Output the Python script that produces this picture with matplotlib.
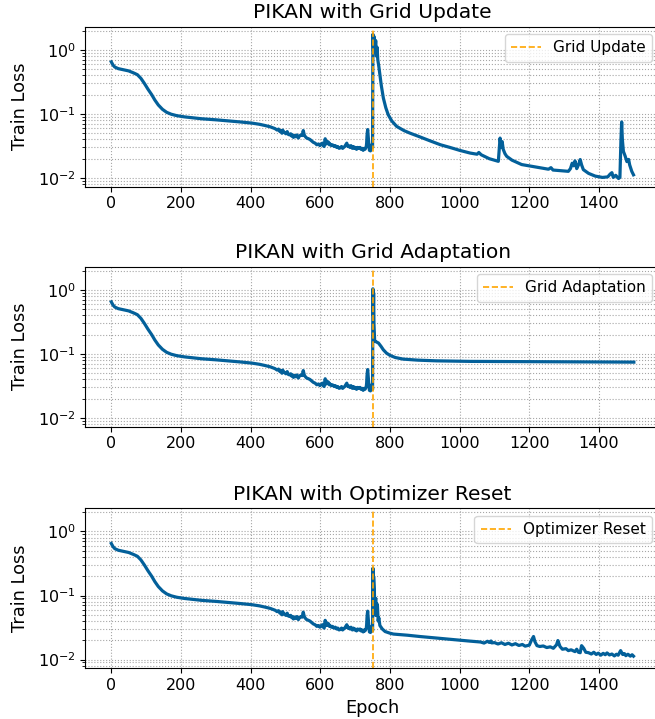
import matplotlib
matplotlib.use("Agg")
import matplotlib.pyplot as plt
import numpy as np

# shared history before the event at epoch 750
pre_epoch = [0, 5, 10, 20, 35, 50, 65, 75, 85, 95, 105, 116, 125, 135, 147,
             159, 172, 188, 210, 235, 260, 300, 336, 370, 403, 425, 441, 456,
             470, 476, 480, 484, 487, 490, 492, 495, 498, 501, 505, 508, 512,
             515, 518, 521, 523, 527, 530, 533, 537, 540, 544, 548, 551, 554,
             556, 559, 561, 566, 570, 575, 580, 585, 590, 595, 599, 603, 606,
             609, 611, 614, 616, 618, 621, 624, 626, 628, 632, 635, 640, 643,
             647, 650, 654, 657, 661, 664, 667, 670, 673, 676, 679, 681, 685,
             688, 692, 695, 698, 700, 704, 707, 711, 714, 717, 720, 723, 726,
             728, 730, 732, 733, 734, 735, 736, 737, 739, 741, 744, 747, 749]
pre_loss = [0.65, 0.58, 0.54, 0.51, 0.49, 0.47, 0.435, 0.41, 0.36, 0.30,
            0.245, 0.20, 0.165, 0.138, 0.118, 0.106, 0.099, 0.094, 0.090,
            0.087, 0.084, 0.081, 0.078, 0.075, 0.072, 0.069, 0.066, 0.063,
            0.059, 0.056, 0.058, 0.053, 0.055, 0.050, 0.056, 0.052, 0.051,
            0.049, 0.053, 0.048, 0.047, 0.049, 0.045, 0.047, 0.043, 0.046,
            0.044, 0.047, 0.042, 0.045, 0.047, 0.046, 0.055, 0.047, 0.045,
            0.043, 0.042, 0.041, 0.040, 0.038, 0.036, 0.035, 0.033, 0.034,
            0.032, 0.034, 0.035, 0.032, 0.031, 0.041, 0.036, 0.034, 0.037,
            0.036, 0.033, 0.034, 0.032, 0.033, 0.031, 0.032, 0.030, 0.031,
            0.029, 0.0295, 0.031, 0.029, 0.030, 0.031, 0.033, 0.035, 0.031,
            0.032, 0.030, 0.032, 0.029, 0.031, 0.029, 0.030, 0.028, 0.030,
            0.029, 0.030, 0.028, 0.029, 0.027, 0.029, 0.028, 0.029, 0.031,
            0.035, 0.045, 0.052, 0.057, 0.048, 0.035, 0.027, 0.0265, 0.030,
            0.034]

update_epoch = [750, 751, 753, 755, 757, 759, 761, 763, 765, 768, 771, 775,
                781, 788, 795, 805, 819, 840, 858, 885, 915, 945, 972, 1000,
                1030, 1050, 1055, 1062, 1085, 1111, 1114, 1116, 1119, 1122,
                1125, 1130, 1135, 1150, 1178, 1220, 1255, 1262, 1268, 1312,
                1318, 1323, 1327, 1331, 1336, 1341, 1346, 1350, 1355, 1370,
                1389, 1410, 1425, 1432, 1437, 1441, 1448, 1456, 1460, 1463,
                1465, 1467, 1470, 1475, 1480, 1485, 1488, 1494, 1499]
update_loss = [0.03, 1.75, 0.9, 1.6, 1.0, 1.4, 0.8, 1.1, 0.7, 0.55, 0.41,
               0.28, 0.177, 0.125, 0.097, 0.078, 0.064, 0.055, 0.050, 0.044,
               0.038, 0.033, 0.030, 0.027, 0.0245, 0.0235, 0.025, 0.023,
               0.020, 0.0182, 0.030, 0.042, 0.030, 0.037, 0.028, 0.024,
               0.0218, 0.019, 0.0162, 0.0148, 0.0137, 0.0145, 0.0133, 0.0127,
               0.014, 0.017, 0.0155, 0.0185, 0.014, 0.016, 0.0194, 0.016,
               0.0135, 0.0118, 0.0107, 0.0102, 0.0104, 0.0115, 0.0121,
               0.0102, 0.011, 0.0098, 0.0102, 0.04, 0.075, 0.04, 0.026,
               0.022, 0.018, 0.0195, 0.016, 0.0127, 0.0112]

adapt_epoch = [750, 751, 752, 753, 754, 756, 760, 767, 774, 781, 790, 800,
               815, 838, 880, 934, 1030, 1150, 1300, 1400, 1500]
adapt_loss = [0.028, 1.04, 0.4, 0.9, 0.3, 0.16, 0.155, 0.148, 0.132, 0.116,
              0.103, 0.095, 0.088, 0.083, 0.080, 0.078, 0.0765, 0.076,
              0.0755, 0.075, 0.0745]

reset_epoch = [750, 751, 752, 753, 755, 757, 759, 760, 762, 764, 766, 768,
               771, 778, 786, 800, 810, 850, 886, 940, 982, 1030, 1060, 1070,
               1080, 1085, 1090, 1092, 1100, 1110, 1120, 1130, 1140, 1150,
               1160, 1170, 1180, 1188, 1200, 1206, 1212, 1216, 1222, 1230,
               1240, 1250, 1260, 1269, 1278, 1282, 1288, 1295, 1305, 1312,
               1320, 1331, 1336, 1341, 1346, 1350, 1356, 1362, 1370, 1378,
               1385, 1392, 1398, 1405, 1412, 1418, 1423, 1430, 1437, 1444,
               1450, 1455, 1462, 1468, 1473, 1477, 1483, 1490, 1495, 1499]
reset_loss = [0.028, 0.267, 0.06, 0.2, 0.127, 0.05, 0.09, 0.049, 0.075, 0.07,
              0.04, 0.045, 0.034, 0.030, 0.0274, 0.0258, 0.025, 0.024,
              0.0229, 0.0215, 0.0205, 0.0194, 0.0188, 0.0181, 0.0193,
              0.0185, 0.0195, 0.0182, 0.0184, 0.0175, 0.0183, 0.0172,
              0.0180, 0.0169, 0.0177, 0.0166, 0.0172, 0.0162, 0.0168, 0.020,
              0.0229, 0.019, 0.0165, 0.0160, 0.0163, 0.0154, 0.0158, 0.0150,
              0.017, 0.0198, 0.016, 0.0145, 0.0148, 0.0138, 0.0142, 0.0133,
              0.0145, 0.013, 0.0128, 0.0165, 0.015, 0.013, 0.0128, 0.0122,
              0.0130, 0.0120, 0.0126, 0.0117, 0.0125, 0.0119, 0.0127, 0.0118,
              0.0122, 0.0114, 0.0121, 0.0117, 0.0138, 0.012, 0.0124, 0.0115,
              0.0121, 0.0113, 0.0119, 0.0113]

event_epoch = 750
titles = ["PIKAN with Grid Update", "PIKAN with Grid Adaptation",
          "PIKAN with Optimizer Reset"]
labels = ["Grid Update", "Grid Adaptation", "Optimizer Reset"]
posts = [(update_epoch, update_loss), (adapt_epoch, adapt_loss),
         (reset_epoch, reset_loss)]

fig = plt.figure(figsize=(6.55, 7.19), dpi=100)
bottoms = [0.7403, 0.4065, 0.0705]

for bottom, title, label, (ep, lo) in zip(bottoms, titles, labels, posts):
    ax = fig.add_axes([0.130, bottom, 0.8776, 0.2225])
    epoch = np.array(pre_epoch + ep)
    loss = np.array(pre_loss + lo)
    ax.plot(epoch, loss, color="#03609a", lw=2.3)
    ax.axvline(event_epoch, color="orange", ls="--", lw=1.2, label=label)
    ax.set_yscale("log")
    ax.set_xlim(-75, 1575)
    ax.set_ylim(0.0073, 2.3)
    ax.grid(True, which="both", ls=":", lw=0.8, color="0.5", alpha=0.7)
    ax.set_title(title, fontsize=14.6)
    ax.set_ylabel("Train Loss", fontsize=12.8, labelpad=6)
    ax.tick_params(labelsize=11.5)
    ax.legend(loc="upper right", fontsize=11)

ax.set_xlabel("Epoch", fontsize=12.8)

fig.savefig("out.png", dpi=100)
